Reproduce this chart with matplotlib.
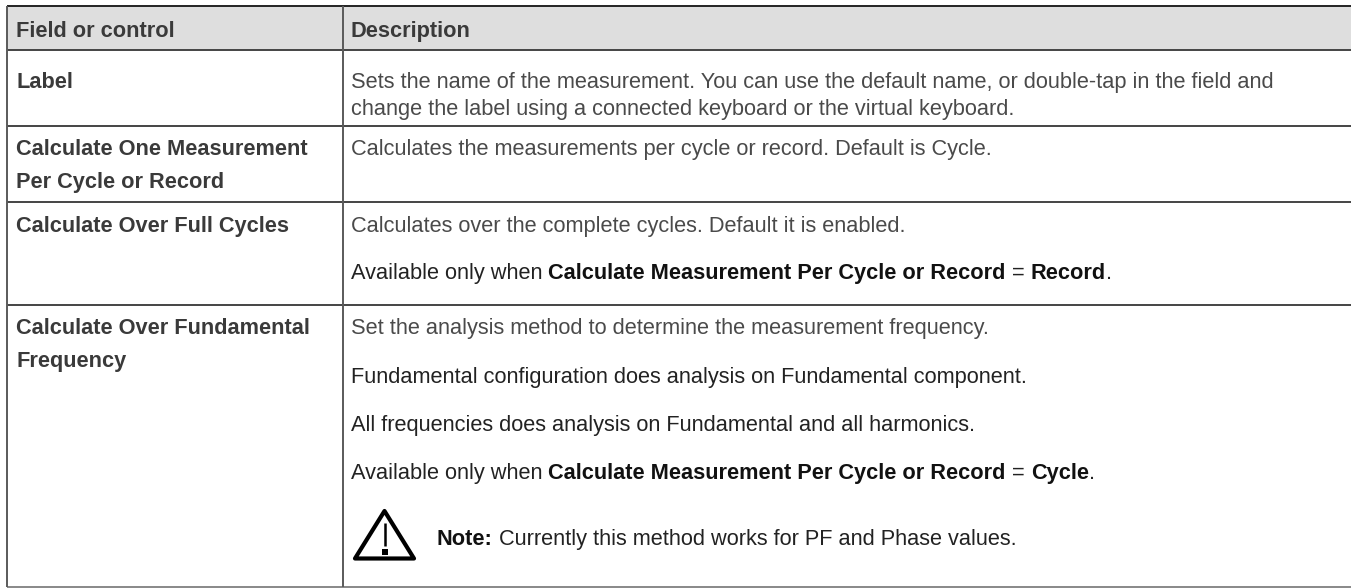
import matplotlib
matplotlib.use('Agg')
import matplotlib.pyplot as plt
from matplotlib.patches import Polygon, Rectangle

plt.rcParams['font.family'] = ['Liberation Sans', 'DejaVu Sans']

WIDTH, HEIGHT = 1351, 588
FONT = 15.65

col_edges = [7, 343, 1351]
row_edges = [6, 50, 126, 202, 305, 587]

headers = ['Field or control', 'Description']

# (text, baseline y)
field_labels = [
    ('Label', 88),
    ('Calculate One Measurement', 155),
    ('Per Cycle or Record', 188),
    ('Calculate Over Full Cycles', 232),
    ('Calculate Over Fundamental', 334),
    ('Frequency', 367),
]

GREY = '#4a4a4a'
DARK = '#222222'

# each line is a list of (text, bold) runs, its baseline y and its colour
desc_lines = [
    ([('Sets the name of the measurement. You can use the default name, or double-tap in the field and', False)], 88, GREY),
    ([('change the label using a connected keyboard or the virtual keyboard.', False)], 115, GREY),
    ([('Calculates the measurements per cycle or record. Default is Cycle.', False)], 155, GREY),
    ([('Calculates over the complete cycles. Default it is enabled.', False)], 232, GREY),
    ([('Available only when ', False), ('Calculate Measurement Per Cycle or Record', True),
      (' = ', False), ('Record', True), ('.', False)], 279, DARK),
    ([('Set the analysis method to determine the measurement frequency.', False)], 334, GREY),
    ([('Fundamental configuration does analysis on Fundamental component.', False)], 383, DARK),
    ([('All frequencies does analysis on Fundamental and all harmonics.', False)], 431, DARK),
    ([('Available only when ', False), ('Calculate Measurement Per Cycle or Record', True),
      (' = ', False), ('Cycle', True), ('.', False)], 479, DARK),
]
note_runs = [('Note:', True), (' Currently this method works for PF and Phase values.', False)]
note_y = 545

fig = plt.figure(figsize=(WIDTH / 100, HEIGHT / 100), dpi=100)
ax = fig.add_axes([0, 0, 1, 1])
ax.set_xlim(0, WIDTH)
ax.set_ylim(HEIGHT, 0)
ax.axis('off')


def draw_runs(x, y, runs, regular):
    rend = fig.canvas.get_renderer()
    for text, bold in runs:
        weight = 'bold' if bold else 'normal'
        ax.text(x, y, text, fontsize=FONT, va='baseline', ha='left',
                fontweight=weight, color='#111111' if bold else regular)
        # spaces at the ends are not measured reliably, so measure with guards
        guard = ax.text(0, 0, '|' + text + '|', fontsize=FONT, fontweight=weight)
        bar = ax.text(0, 0, '||', fontsize=FONT, fontweight=weight)
        w = guard.get_window_extent(rend).width - bar.get_window_extent(rend).width
        guard.remove()
        bar.remove()
        x += w


ax.add_patch(Rectangle((col_edges[0], row_edges[0]), col_edges[2] - col_edges[0],
                       row_edges[1] - row_edges[0], color='#dedede', lw=0))

for i, y in enumerate(row_edges):
    if i == 0:
        c = '#222222'
    elif i == len(row_edges) - 1:
        c = '#888888'
    else:
        c = '#444444'
    ax.plot([col_edges[0], col_edges[2]], [y, y], color=c, lw=1.4, solid_capstyle='butt')
for x in col_edges[:2]:
    ax.plot([x, x], [row_edges[0], row_edges[-1]], color='#5a5a5a', lw=1.4, solid_capstyle='butt')

ax.text(16, 37, headers[0], fontsize=FONT, fontweight='bold', color='#3a3a3a')
ax.text(351, 37, headers[1], fontsize=FONT, fontweight='bold', color='#3a3a3a')

for text, y in field_labels:
    ax.text(16, y, text, fontsize=FONT, fontweight='bold', color='#3a3a3a')

for runs, y, colour in desc_lines:
    draw_runs(351, y, runs, colour)

# warning sign
ax.add_patch(Polygon([(384.5, 511), (355, 558.5), (414, 558.5)], closed=True, fill=False,
                     ec='black', lw=3.0, joinstyle='round'))
ax.plot([384.5, 384.5], [523, 546], color='black', lw=1.8, solid_capstyle='butt')
ax.plot([384.5], [552], 's', color='black', ms=3.8, mew=0)
draw_runs(437, note_y, note_runs, DARK)

fig.savefig('out.png', dpi=100)
